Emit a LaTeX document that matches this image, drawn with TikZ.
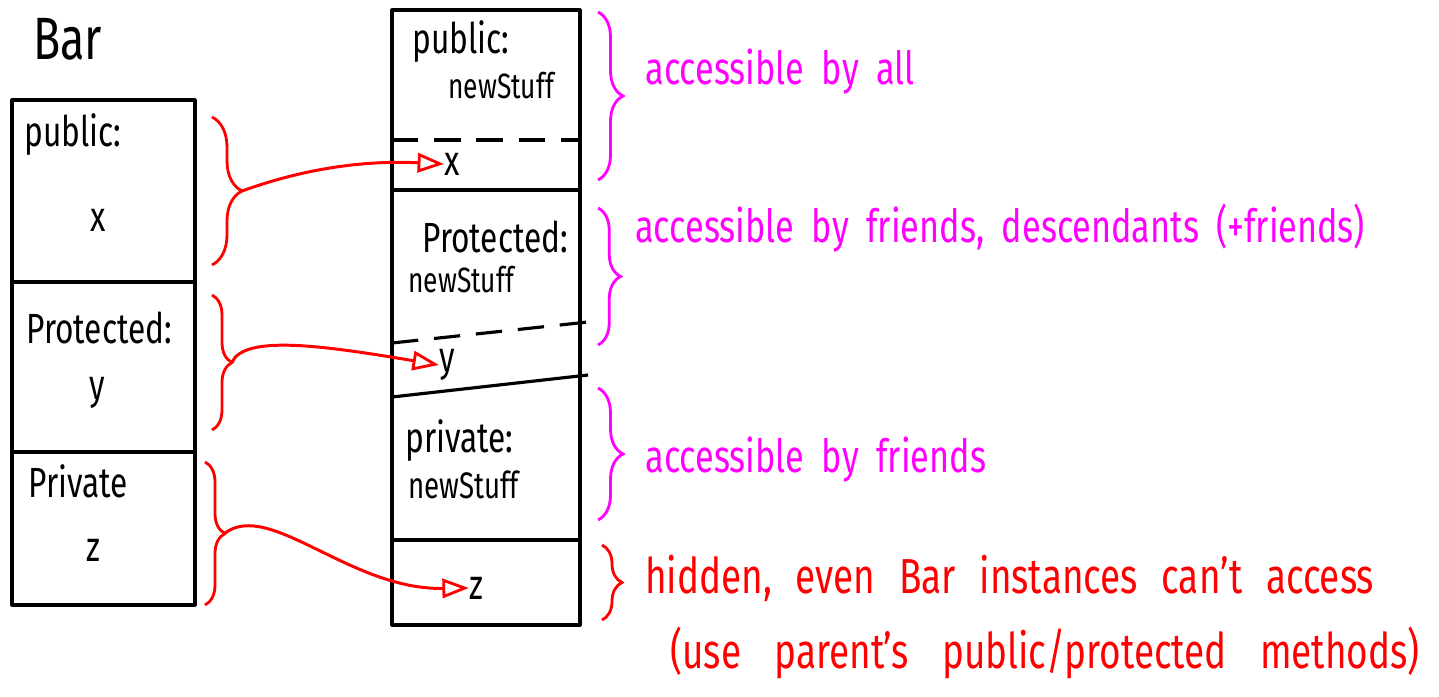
\documentclass[tikz,border=0pt]{standalone}
\usepackage{fontspec}
\setmainfont[FakeStretch=0.75]{Fira Sans}
\usetikzlibrary{decorations.pathreplacing,arrows.meta}

\definecolor{penred}{RGB}{255,0,0}
\definecolor{penpink}{RGB}{255,0,255}

\newcommand{\wordgap}[1]{\spaceskip #1\relax}

\tikzset{
  box/.style={line width=1.8pt, line join=round},
  divider/.style={line width=1.8pt, dash pattern=on 15pt off 9pt},
  label/.style={font=\fontsize{24}{26}\selectfont, inner sep=0pt},
  note/.style={font={\fontsize{26}{28}\selectfont\wordgap{#1}}, inner sep=0pt, anchor=base west},
  note/.default=10pt,
  bignote/.style={note, font={\fontsize{28}{30}\selectfont\wordgap{#1}}},
  curly/.style={decorate, decoration={brace, amplitude=#1}, line width=1.6pt},
  link/.style={penred, line width=1.7pt, -{Triangle[open, length=15pt, width=11pt, line width=1.6pt]}}
}

\begin{document}
\begin{tikzpicture}[x=0.02cm, y=-0.02cm]
    \useasboundingbox (0,0) rectangle (1439,696);

    % The base class Bar
    \node[label, anchor=base west, font=\fontsize{34}{36}\selectfont] (barName) at (33,60) {Bar};
    \draw[box] (12,100) rectangle (195,605);
    \draw[box] (12,282) -- (195,282);
    \draw[box] (12,452) -- (195,452);

    \node[label, anchor=base west] (barPub) at (24,146) {public:};
    \node[label] (oldX) at (98,220) {x};
    \node[label, anchor=base west] (barProt) at (26,343) {Protected:};
    \node[label] (oldY) at (97,393) {y};
    \node[label, anchor=base west] (barPriv) at (28,497) {Private};
    \node[label] (oldZ) at (93,550) {z};

    % The derived class, with the inherited members under the dashed lines
    \draw[box] (392,10) rectangle (580,625);
    \draw[divider] (392,140) -- (580,140);
    \draw[box] (392,190) -- (580,190);
    \draw[divider] (392,343) -- (588,322);
    \draw[box] (392,397) -- (588,375);
    \draw[box] (392,540) -- (580,540);

    \node[label, anchor=base west] (subPub) at (412,54) {public:};
    \node[label, anchor=base west, font=\fontsize{20}{22}\selectfont] (subPubNew) at (448,98) {newStuff};
    \node[label] (newX) at (452,164) {x};
    \node[label, anchor=base west] (subProt) at (422,252) {Protected:};
    \node[label, anchor=base west, font=\fontsize{20}{22}\selectfont] (subProtNew) at (408,292) {newStuff};
    \node[label] (newY) at (447,365) {y};
    \node[label, anchor=base west] (subPriv) at (405,452) {private:};
    \node[label, anchor=base west, font=\fontsize{21}{23}\selectfont] (subPrivNew) at (408,498) {newStuff};
    \node[label] (newZ) at (476,588) {z};

    % Braces round the members of Bar and where they end up
    \draw[penred, curly=0.6cm] (212,117) -- (212,265);
    \draw[penred, curly=0.4cm] (212,295) -- (212,430);
    \draw[penred, curly=0.4cm] (205,462) -- (205,605);
    \coordinate (pubTip) at (242,191);
    \coordinate (protTip) at (232,362);
    \coordinate (privTip) at (225,533);

    \draw[link] (pubTip) .. controls (300,170) and (360,160) .. (newX.west);
    \draw[link] (protTip) .. controls (245,335) and (320,345) .. (newY.west);
    \draw[link] (privTip) .. controls (270,500) and (350,590) .. (newZ.west);

    % Who can see what
    \draw[penpink, curly=0.5cm] (598,12) -- (598,180);
    \draw[penpink, curly=0.45cm] (598,208) -- (598,345);
    \draw[penpink, curly=0.5cm] (598,388) -- (598,520);
    \draw[penred, curly=0.4cm] (602,545) -- (602,620);

    \node[note, penpink] (allNote) at (645,85) {accessible by all};
    \node[note, penpink] (protNote) at (635,242) {accessible by friends, descendants (+friends)};
    \node[note, penpink] (privNote) at (645,472) {accessible by friends};
    \node[bignote=13.5pt, penred] (hideNote) at (645,593) {hidden, even Bar instances can't access};
    \node[bignote=19pt, penred] (useNote) at (670,668) {(use parent's public/protected methods)};
\end{tikzpicture}
\end{document}
